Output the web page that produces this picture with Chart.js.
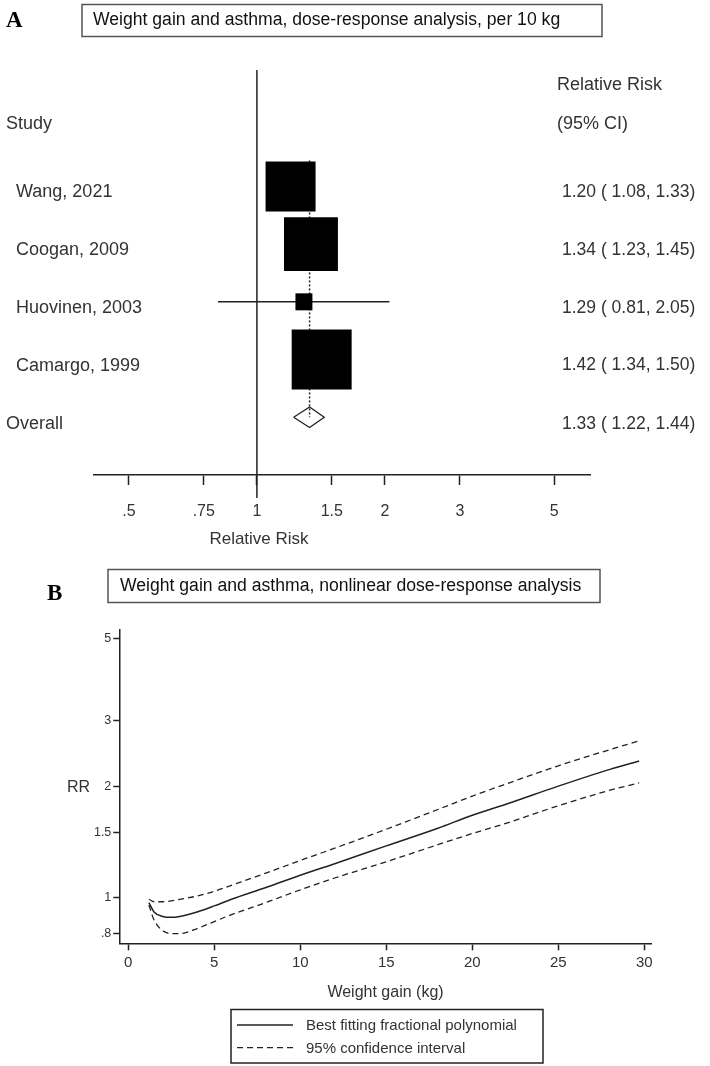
<!DOCTYPE html>
<html><head><meta charset="utf-8">
<script src="https://cdn.jsdelivr.net/npm/chart.js@4.4.1/dist/chart.umd.min.js"></script>
<style>
html,body{margin:0;padding:0;background:#fff;width:710px;height:1066px;overflow:hidden;}
canvas{position:absolute;left:0;}
#cA{top:0}
#cB{top:560px}
</style></head><body>
<canvas id="cA" width="710" height="560"></canvas>
<canvas id="cB" width="710" height="506"></canvas>
<script>
// ---------- Panel A data ----------
const studies = ['Wang, 2021', 'Coogan, 2009', 'Huovinen, 2003', 'Camargo, 1999'];
const studyRR = [1.20, 1.34, 1.29, 1.42];
const studyLo = [1.08, 1.23, 0.81, 1.34];
const studyHi = [1.33, 1.45, 2.05, 1.50];
const studyWeight = [26.9, 31.3, 3.1, 38.7];
const overallLabel = 'Overall';
const overallRR = 1.33;
const overallLo = 1.22;
const overallHi = 1.44;
const forestTicks = [0.5, 0.75, 1, 1.5, 2, 3, 5];
const forestTickLabels = ['.5', '.75', '1', '1.5', '2', '3', '5'];

// ---------- Panel B data ----------
const weightGain = [1.2, 1.5, 2, 2.5, 3, 4, 5, 6, 8, 10, 12, 15, 18, 20, 22, 25, 28, 29.7];
const fitRR   = [0.97, 0.915, 0.89, 0.885, 0.89, 0.915, 0.95, 0.99, 1.065, 1.15, 1.235, 1.38, 1.54, 1.67, 1.79, 2.0, 2.22, 2.34];
const upperCI = [0.99, 0.975, 0.975, 0.98, 0.99, 1.01, 1.04, 1.08, 1.165, 1.26, 1.36, 1.53, 1.73, 1.88, 2.03, 2.27, 2.51, 2.65];
const lowerCI = [0.955, 0.87, 0.815, 0.80, 0.80, 0.825, 0.862, 0.90, 0.97, 1.05, 1.13, 1.25, 1.39, 1.49, 1.59, 1.77, 1.95, 2.04];
const xTicksB = [0, 5, 10, 15, 20, 25, 30];
const yTicksB = [0.8, 1, 1.5, 2, 3, 5];
const yTickLabelsB = ['.8', '1', '1.5', '2', '3', '5'];

const FONT = "'Liberation Sans', Arial, sans-serif";
const SERIF = "'Liberation Serif', 'Times New Roman', serif";
const TXT = '#333';
const LINE = '#222';

function fmt(v){ return v.toFixed(2); }
function textAt(ctx, str, x, yc, size, align){
  ctx.font = size + 'px ' + FONT;
  ctx.textAlign = align || 'left';
  ctx.textBaseline = 'alphabetic';
  ctx.fillText(str, x, yc + 0.36 * size);
}

// ---------- Chart A ----------
const boxSide = w => 9.64 * Math.sqrt(w);
const dsA = [];
dsA.push({ label: 'overall', data: [
    {x: overallLo, y: 4}, {x: overallRR, y: 4 - 0.178}, {x: overallHi, y: 4},
    {x: overallRR, y: 4 + 0.178}, {x: overallLo, y: 4}],
  showLine: true, borderColor: LINE, borderWidth: 1.3, pointRadius: 0, fill: false, tension: 0, order: 0 });
dsA.push({ label: 'studies', data: studyRR.map((v, i) => ({x: v, y: i})),
  pointStyle: 'rect', pointRadius: studyWeight.map(w => boxSide(w) / Math.SQRT2),
  backgroundColor: '#000', borderColor: '#000', pointBorderWidth: 0, order: 1 });
studies.forEach((s, i) => dsA.push({ label: 'ci' + i,
  data: [{x: studyLo[i], y: i}, {x: studyHi[i], y: i}],
  showLine: true, borderColor: LINE, borderWidth: 1.5, pointRadius: 0, order: 2 }));
dsA.push({ label: 'overallLine', data: [{x: overallRR, y: -0.45}, {x: overallRR, y: 4}],
  showLine: true, borderColor: LINE, borderWidth: 1.5, borderDash: [2, 2], pointRadius: 0, order: 3 });

const forestDecor = {
  id: 'forestDecor',
  beforeDatasetsDraw(chart){
    const {ctx, scales: {x}, chartArea} = chart;
    const px = x.getPixelForValue(1);
    ctx.save();
    ctx.strokeStyle = LINE; ctx.lineWidth = 1.5;
    ctx.beginPath(); ctx.moveTo(px, 70); ctx.lineTo(px, chartArea.bottom + 23); ctx.stroke();
    ctx.restore();
  },
  afterDraw(chart){
    const {ctx, scales: {y}, chartArea} = chart;
    ctx.save();
    ctx.font = 'bold 23px ' + SERIF; ctx.textAlign = 'left'; ctx.textBaseline = 'alphabetic';
    ctx.fillStyle = '#000';
    ctx.fillText('A', 6, 27);
    ctx.strokeStyle = '#555'; ctx.lineWidth = 1.5;
    ctx.strokeRect(82, 4.5, 520, 32);
    ctx.fillStyle = '#111';
    ctx.font = '17.6px ' + FONT;
    ctx.fillText('Weight gain and asthma, dose-response analysis, per 10 kg', 93, 25);
    ctx.fillStyle = TXT;
    textAt(ctx, 'Relative Risk', 259, chartArea.bottom + 63, 17, 'center');
    textAt(ctx, 'Relative Risk', 557, y.getPixelForValue(-1.79), 18);
    textAt(ctx, '(95% CI)', 557, y.getPixelForValue(-1.10), 18);
    textAt(ctx, 'Study', 6, y.getPixelForValue(-1.10), 18);
    studies.forEach((s, i) => {
      const yc = y.getPixelForValue(i) + 4.5;
      textAt(ctx, s, 16, yc, 18);
      textAt(ctx, fmt(studyRR[i]) + ' ( ' + fmt(studyLo[i]) + ', ' + fmt(studyHi[i]) + ')', 562, yc, 17.5);
    });
    const yo = y.getPixelForValue(4) + 5;
    textAt(ctx, overallLabel, 6, yo, 18);
    textAt(ctx, fmt(overallRR) + ' ( ' + fmt(overallLo) + ', ' + fmt(overallHi) + ')', 562, yo, 17.5);
    ctx.restore();
  }
};

new Chart(document.getElementById('cA'), {
  type: 'scatter',
  data: { datasets: dsA },
  options: {
    responsive: false, animation: false, events: [],
    layout: { padding: { left: 94, right: 120, top: 60, bottom: 10 } },
    plugins: { legend: { display: false }, tooltip: { enabled: false } },
    scales: {
      x: {
        type: 'logarithmic', min: 0.414, max: 6.07, position: 'bottom',
        afterBuildTicks: s => { s.ticks = forestTicks.map(v => ({value: v})); },
        afterFit: s => { s.height = 75; },
        grid: { drawOnChartArea: false, tickLength: 10, tickColor: LINE, tickWidth: 1.5 },
        border: { display: true, color: LINE, width: 1.5 },
        ticks: { autoSkip: false, maxRotation: 0, padding: 17,
          font: { family: FONT, size: 16 }, color: TXT,
          callback: v => forestTickLabels[forestTicks.indexOf(v)] },
        title: { display: false }
      },
      y: { type: 'linear', reverse: true, min: -2.19, max: 5.0, display: false }
    }
  },
  plugins: [forestDecor]
});

// ---------- Chart B ----------
const legendBox = {
  id: 'legendBox',
  afterDraw(chart){
    const {ctx, chartArea} = chart;
    ctx.save();
    ctx.fillStyle = '#000';
    ctx.font = 'bold 23px ' + SERIF; ctx.textAlign = 'left'; ctx.textBaseline = 'alphabetic';
    ctx.fillText('B', 47, 40);
    ctx.strokeStyle = '#555'; ctx.lineWidth = 1.5;
    ctx.strokeRect(108, 9.5, 492, 33);
    ctx.fillStyle = '#111';
    ctx.font = '17.6px ' + FONT;
    ctx.fillText('Weight gain and asthma, nonlinear dose-response analysis', 120, 31);
    ctx.fillStyle = TXT;
    textAt(ctx, 'RR', 90, (chartArea.top + chartArea.bottom) / 2, 16, 'right');
    ctx.strokeStyle = '#222'; ctx.lineWidth = 1.5; ctx.setLineDash([]);
    ctx.strokeRect(231, 449.5, 312, 53.5);
    const items = [];
    chart.data.datasets.forEach(d => { if (!items.find(it => it.label === d.label)) items.push(d); });
    items.forEach((d, i) => {
      const yy = 465 + i * 22.7;
      ctx.strokeStyle = d.borderColor; ctx.lineWidth = d.borderWidth;
      ctx.setLineDash(d.borderDash || []);
      ctx.beginPath(); ctx.moveTo(237, yy); ctx.lineTo(293, yy); ctx.stroke();
      ctx.setLineDash([]);
      ctx.fillStyle = TXT;
      textAt(ctx, d.label, 306, yy, 15);
    });
    ctx.restore();
  }
};

const lineCommon = { showLine: true, pointRadius: 0, fill: false, cubicInterpolationMode: 'monotone', borderColor: LINE };
new Chart(document.getElementById('cB'), {
  type: 'scatter',
  data: { datasets: [
    Object.assign({ label: 'Best fitting fractional polynomial', data: weightGain.map((x, i) => ({x, y: fitRR[i]})), borderWidth: 1.5 }, lineCommon),
    Object.assign({ label: '95% confidence interval', data: weightGain.map((x, i) => ({x, y: upperCI[i]})), borderWidth: 1.3, borderDash: [6, 4] }, lineCommon),
    Object.assign({ label: '95% confidence interval', data: weightGain.map((x, i) => ({x, y: lowerCI[i]})), borderWidth: 1.3, borderDash: [6, 4] }, lineCommon)
  ]},
  options: {
    responsive: false, animation: false, events: [],
    layout: { padding: { left: 79.3, right: 58.3, top: 70, bottom: 62.7 } },
    plugins: { legend: { display: false }, tooltip: { enabled: false } },
    scales: {
      x: {
        type: 'linear', min: -0.52, max: 30.43,
        afterBuildTicks: s => { s.ticks = xTicksB.map(v => ({value: v})); },
        afterFit: s => { s.height = 60; },
        grid: { drawOnChartArea: false, tickLength: 7, tickColor: LINE, tickWidth: 1.5 },
        border: { display: true, color: LINE, width: 1.5 },
        ticks: { autoSkip: false, maxRotation: 0, padding: 4, font: { family: FONT, size: 15 }, color: TXT },
        title: { display: true, text: 'Weight gain (kg)', color: TXT, font: { family: FONT, size: 16 }, padding: { top: 0, bottom: 1 } }
      },
      y: {
        type: 'logarithmic', min: 0.753, max: 5.28,
        afterBuildTicks: s => { s.ticks = yTicksB.map(v => ({value: v})); },
        afterFit: s => { s.width = 40; },
        grid: { drawOnChartArea: false, tickLength: 6, tickColor: LINE, tickWidth: 1.5 },
        border: { display: true, color: LINE, width: 1.5 },
        ticks: { autoSkip: false, padding: 2, font: { family: FONT, size: 12.5 }, color: TXT,
          callback: v => yTickLabelsB[yTicksB.indexOf(v)] }
      }
    }
  },
  plugins: [legendBox]
});
</script>
</body></html>
